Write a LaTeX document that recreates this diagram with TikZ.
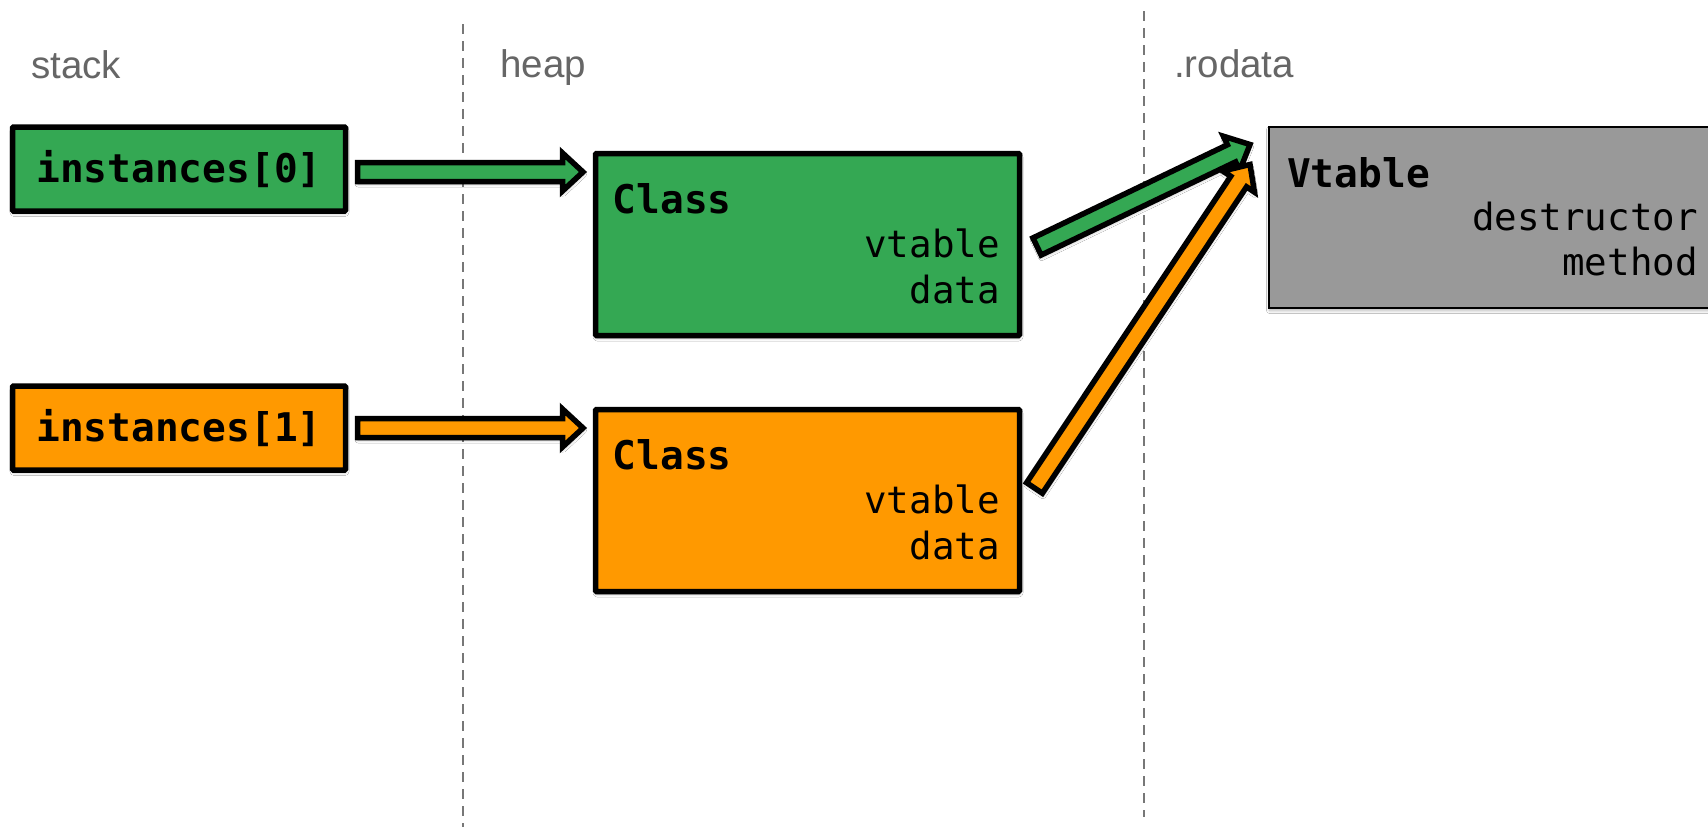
\documentclass[tikz,border=0pt]{standalone}
\usepackage{fontspec}
\setmainfont{Liberation Sans}
\newfontfamily\codefont{DejaVu Sans Mono}
\usetikzlibrary{calc,shadows.blur}

\definecolor{boxgreen}{HTML}{34A853}
\definecolor{boxorange}{HTML}{FF9900}
\definecolor{vtgray}{HTML}{999999}
\definecolor{labelgray}{HTML}{666666}
\definecolor{guidegray}{HTML}{777777}

\tikzset{
  softshadow/.style={blur shadow={shadow xshift=0.5pt, shadow yshift=-2.5pt,
      shadow blur radius=3pt, shadow blur steps=6, shadow opacity=30}},
  membox/.style={draw=black, line width=5.5pt, outer sep=0pt, inner sep=0pt,
      rounded corners=1pt, softshadow},
  slotbox/.style={membox, minimum width=333pt, minimum height=84pt,
      font=\codefont\bfseries\fontsize{39.5}{40}\selectfont},
  objbox/.style={membox, minimum width=424pt, minimum height=182pt},
  tablebox/.style={draw=black, line width=2.5pt, fill=vtgray, outer sep=0pt,
      inner sep=0pt, minimum width=453pt, minimum height=181pt, softshadow},
  boldtext/.style={inner sep=0pt, font=\codefont\bfseries\fontsize{39.5}{40}\selectfont},
  plaintext/.style={inner sep=0pt, font=\codefont\fontsize{37.5}{40}\selectfont},
  region/.style={inner sep=0pt, anchor=base west, text=labelgray,
      font=\fontsize{38.5}{40}\selectfont},
  guide/.style={draw=guidegray, line width=1.5pt, dash pattern=on 10pt off 7pt},
  blockarrow/.style={draw=black, line width=5.5pt, line join=miter, miter limit=10,
      softshadow},
}

% outlined block arrow from #1 to the tip #2, filled with #3
\newcommand\fatarrow[3]{%
  \coordinate (fa-h) at ($(#2)!20.5pt!(#1)$);
  \path[blockarrow, fill=#3]
    ($(#1)!9.5pt!90:(#2)$) -- ($(fa-h)!9.5pt!90:(#2)$) -- ($(fa-h)!19pt!90:(#2)$)
    -- (#2) -- ($(fa-h)!19pt!-90:(#2)$) -- ($(fa-h)!9.5pt!-90:(#2)$)
    -- ($(#1)!9.5pt!-90:(#2)$) -- cycle;
}

\begin{document}
\begin{tikzpicture}[x=1pt, y=-1pt]
  \path[fill=white, use as bounding box] (0,0) rectangle (1708,827);

  % memory region separators and titles
  \coordinate (g1t) at (463,24);
  \coordinate (g1b) at (463,827);
  \coordinate (g2t) at (1144,11);
  \coordinate (g2b) at (1144,817);
  \draw[guide] (g1t) -- (g1b);
  \draw[guide] (g2t) -- (g2b);
  \node[region] (lstack) at (31,78) {stack};
  \node[region] (lheap) at (500,77) {heap};
  \node[region] (lrodata) at (1174,77) {.rodata};

  % stack slots
  \node[slotbox, fill=boxgreen] (i0) at (179,169) {instances[0]};
  \node[slotbox, fill=boxorange] (i1) at (179,428) {instances[1]};

  % heap objects
  \node[objbox, fill=boxgreen] (c0) at (807.5,244.5) {};
  \node[objbox, fill=boxorange] (c1) at (807.5,500.5) {};
  \node[boldtext, anchor=base west] (c0name) at ($(c0.north west)+(17pt,-59.5pt)$) {Class};
  \node[plaintext, anchor=base east] (c0vt) at ($(c0.north east)+(-19.5pt,-103.5pt)$) {vtable};
  \node[plaintext, anchor=base east] (c0data) at ($(c0.north east)+(-19.5pt,-149.5pt)$) {data};
  \node[boldtext, anchor=base west] (c1name) at ($(c1.north west)+(17pt,-59.5pt)$) {Class};
  \node[plaintext, anchor=base east] (c1vt) at ($(c1.north east)+(-19.5pt,-103.5pt)$) {vtable};
  \node[plaintext, anchor=base east] (c1data) at ($(c1.north east)+(-19.5pt,-149.5pt)$) {data};

  % read-only vtable
  \node[tablebox] (vt) at (1495.5,217.5) {};
  \node[boldtext, anchor=base west] (vtname) at ($(vt.north west)+(18pt,-60pt)$) {Vtable};
  \node[plaintext, anchor=base east] (vtdtor) at ($(vt.north west)+(429pt,-103pt)$) {destructor};
  \node[plaintext, anchor=base east] (vtmeth) at ($(vt.north west)+(429pt,-148pt)$) {method};

  % pointer ends
  \coordinate (a0s) at ($(i0.east)+(12pt,-3pt)$);
  \coordinate (a0t) at ($(c0.west |- a0s)+(-12.5pt,0pt)$);
  \coordinate (a1s) at ($(i1.east)+(12pt,0pt)$);
  \coordinate (a1t) at ($(c1.west |- a1s)+(-12.5pt,0pt)$);
  \coordinate (d0s) at ($(c0.north east)+(17.5pt,-93pt)$);
  \coordinate (d0t) at ($(vt.north west)+(-19pt,-17.5pt)$);
  \coordinate (d1s) at ($(c1.north east)+(15pt,-78.5pt)$);
  \coordinate (d1t) at ($(vt.north west)+(-19pt,-37.5pt)$);

  % pointers
  \fatarrow{a0s}{a0t}{boxgreen}
  \fatarrow{a1s}{a1t}{boxorange}
  \fatarrow{d0s}{d0t}{boxgreen}
  \fatarrow{d1s}{d1t}{boxorange}
\end{tikzpicture}
\end{document}
